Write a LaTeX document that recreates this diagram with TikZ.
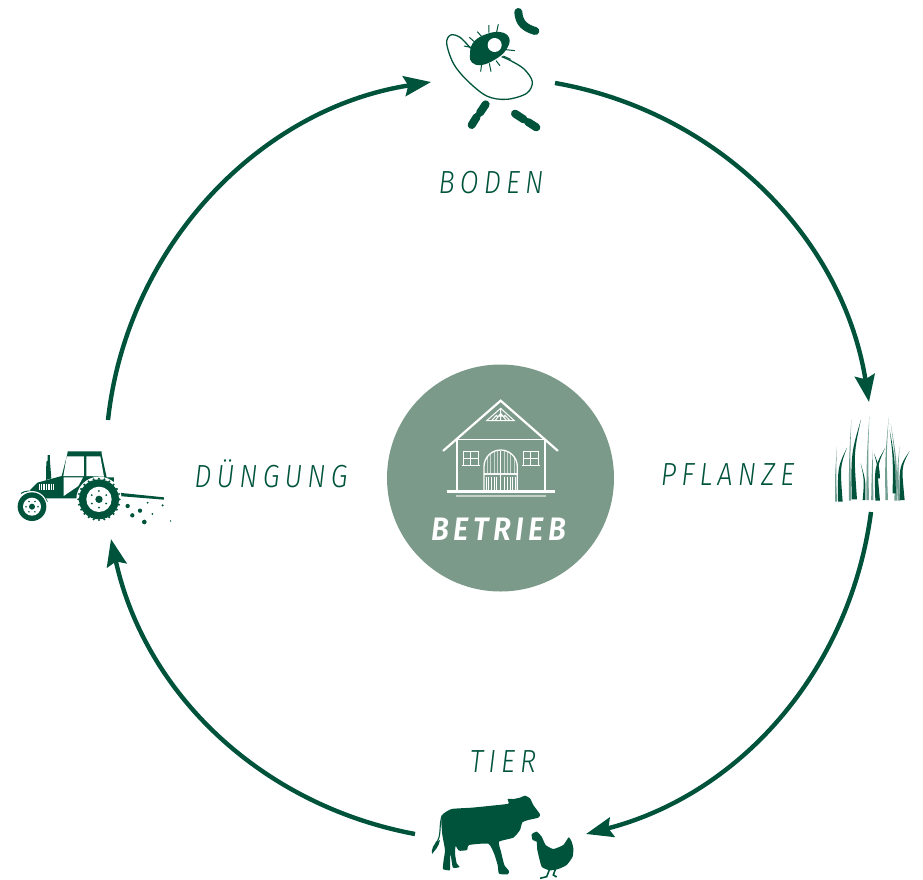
\documentclass[tikz,border=0pt]{standalone}
\usepackage{fontspec}
\usepackage{xcolor}
\usepackage{tikz}
\usetikzlibrary{arrows.meta,calc,positioning}
\newfontfamily\cyclefont[LetterSpace=16,FakeStretch=.85]{Fira Sans Light Italic}
\newfontfamily\farmfont[LetterSpace=14,FakeStretch=.9]{Fira Sans SemiBold Italic}
\definecolor{farmgreen}{HTML}{00533B}
\definecolor{discgreen}{HTML}{7C9A8A}
\newcommand{\grassblade}[5]{\fill[#1] ($#2+(-#5,0)$) .. controls #3 .. #4 .. controls ($#3+(#5,0)$) .. ($#2+(#5,0)$) -- cycle;}

\begin{document}
\begin{tikzpicture}[x=1pt,y=-1pt,
		arrow/.style = {line width=4.4pt,draw=farmgreen,-{Stealth[length=27pt,width=20pt,inset=4pt]}}]
	\tikzset{cyclelabel/.style={text=farmgreen,inner sep=0pt,font=\cyclefont\fontsize{32}{32}\selectfont},
		zoomed/.style={x=.3333pt,y=-.3333pt},
		thinwhite/.style={draw=white,line width=1pt}}
	\useasboundingbox (0,0) rectangle (923,879);

	% Ends of the arcs
	\coordinate (bodenin) at (431,82);
	\coordinate (bodenout) at (555,83);
	\coordinate (pflanzein) at (869,402);
	\coordinate (pflanzeout) at (871,512);
	\coordinate (tierin) at (586,834);
	\coordinate (tierout) at (415,834);
	\coordinate (duengungin) at (111,539);
	\coordinate (duengungout) at (108,420);

	\draw[arrow] (duengungout) to[bend left=37.5,looseness=.95] (bodenin);
	\draw[arrow] (bodenout) to[bend left=35.5,looseness=.95] (pflanzein);
	\draw[arrow] (pflanzeout) to[bend left=34,looseness=.95] (tierin);
	\draw[arrow] (tierout) to[bend left=33.5,looseness=.95] (duengungin);

	% Labels
	\node[cyclelabel] (boden) at (491,183) {BODEN};
	\node[cyclelabel] (pflanze) at (727.5,475) {PFLANZE};
	\node[cyclelabel] (tier) at (503,762) {TIER};
	\node[cyclelabel] (duengung) at (271,474) {DÜNGUNG};

	% Betrieb
	\node[circle,fill=discgreen,minimum size=227pt,inner sep=0pt] (betrieb) at (500.5,478) {};
	\node[text=white,inner sep=0pt,font=\farmfont\fontsize{32.5}{33}\selectfont] (betriebtext) at (499,529) {BETRIEB};
	\begin{scope}[shift={(380,360)},zoomed]
		\draw[white,line width=2.2pt,line cap=round,line join=miter] (190,272) -- (362,122) -- (533,272);
		\draw[white,line width=2.2pt] (231,238) -- (231,393) (494,238) -- (494,393);
		\draw[white,line width=1.4pt] (231,238) -- (494,238);
		\draw[white,line width=2.4pt] (200,395) -- (525,395);
		\draw[white,opacity=.55,line width=1.8pt] (228,407) -- (497,407);
		% windows
		\draw[thinwhite] (250,274) rectangle (296,316) (273,274) -- (273,316) (250,295) -- (296,295);
		\draw[thinwhite] (430,274) rectangle (475,316) (452,274) -- (452,316) (430,295) -- (475,295);
		\draw[thinwhite,line width=1.2pt] (245,317) -- (300,317) (425,317) -- (480,317);
		% door
		\draw[white,line width=1.3pt] (312,390) -- (312,320) arc[start angle=180,end angle=360,radius=50] -- (412,390);
		\foreach \doorx in {322,332,342,352,372,382,392,402}
			\draw[white,opacity=.6,line width=.6pt] (\doorx,342) -- (\doorx,{320-sqrt(2500-(\doorx-362)*(\doorx-362))});
		\draw[white,line width=1pt] (362,272) -- (362,390);
		\draw[white,line width=2pt,opacity=.9] (312,342) -- (412,342);
		\foreach \doorx in {318,326,334,342,350,374,382,390,398,406}
			\draw[white,line width=.7pt] (\doorx,350) -- (\doorx,390);
		% gable
		\draw[thinwhite,line join=miter] (320,182) -- (403,182) -- (362,145) -- cycle;
		\draw[thinwhite] (362,145) -- (362,182) (345,182) -- (362,160) -- (380,182) (335,182) -- (350,165) (390,182) -- (374,165) (348,168) -- (376,168);
	\end{scope}

	% Boden
	\begin{scope}[shift={(420,0)},zoomed]
		\draw[farmgreen,line width=1.3pt] plot[smooth,tension=.55] coordinates {(152,145) (120,112) (92,105) (80,130) (100,190) (140,240) (200,288) (260,298) (320,280) (337,245) (312,207) (272,182) (245,170)};
		\fill[farmgreen] plot[smooth cycle,tension=.7] coordinates {(150,165) (158,130) (192,105) (240,96) (268,115) (258,150) (226,178) (185,195) (156,188)};
		\fill[white] (224,135) circle (21);
		\draw[farmgreen,line width=1pt] (207,98) -- (207,75) (230,96) -- (235,73) (185,110) -- (172,95) (164,126) -- (148,112) (152,142) -- (132,138) (258,149) -- (285,152) (250,168) -- (272,178) (185,192) -- (182,215) (208,190) -- (213,215) (228,182) -- (240,197);
		\draw[farmgreen,line width=8pt,line cap=round] (295,36) .. controls (297,70) and (315,84) .. (346,93);
		\draw[farmgreen,line width=8pt,line cap=round] (197,313) -- (180,338) (170,351) -- (155,375);
		\draw[farmgreen,line width=8pt,line cap=round] (285,341) -- (311,358) (324,366) -- (349,382);
	\end{scope}

	% Pflanze
	\begin{scope}[shift={(825,410)},zoomed]
		\colorlet{grasslight}{farmgreen!55}
		\grassblade{grasslight}{(33,275)}{(30,190)}{(36,110)}{3}
		\grassblade{grasslight}{(75,272)}{(72,140)}{(79,28)}{3.5}
		\grassblade{grasslight}{(128,270)}{(125,140)}{(133,18)}{4}
		\grassblade{grasslight}{(142,270)}{(140,190)}{(143,118)}{3.5}
		\grassblade{grasslight}{(185,270)}{(180,140)}{(191,22)}{4}
		\grassblade{grasslight}{(212,272)}{(212,150)}{(197,40)}{4}
		\grassblade{grasslight}{(222,272)}{(215,190)}{(224,108)}{4}
		\grassblade{farmgreen}{(46,275)}{(38,170)}{(66,113)}{7}
		\grassblade{farmgreen}{(88,268)}{(78,130)}{(108,28)}{8}
		\grassblade{farmgreen}{(117,270)}{(118,210)}{(107,160)}{4}
		\grassblade{farmgreen}{(158,272)}{(148,170)}{(181,113)}{7}
		\grassblade{farmgreen}{(160,205)}{(158,170)}{(147,130)}{5}
		\grassblade{farmgreen}{(208,250)}{(204,140)}{(194,60)}{5}
		\grassblade{farmgreen}{(232,270)}{(222,170)}{(254,123)}{7}
	\end{scope}

	% Tier
	\begin{scope}[shift={(425,785)},zoomed]
		\fill[farmgreen] plot[smooth cycle,tension=.3] coordinates {(53,88) (80,72) (140,68) (200,62) (250,56) (248,42) (265,42) (285,38) (300,32) (315,40) (325,60) (345,88) (340,98) (310,105) (292,112) (285,135) (265,158) (222,170) (228,200) (238,240) (252,258) (248,268) (222,266) (218,240) (207,205) (190,176) (132,180) (126,195) (102,197) (92,183) (90,205) (95,235) (104,246) (84,248) (78,215) (76,205) (75,245) (74,256) (54,252) (56,225) (60,195) (52,150) (49,110)};
		\draw[farmgreen,line width=1.1pt] (52,90) .. controls (40,120) and (52,155) .. (32,175);
		\fill[farmgreen] (35,170) .. controls (28,178) and (18,190) .. (21,207) .. controls (30,195) and (42,185) .. (45,165) -- cycle;
		\fill[farmgreen] plot[smooth cycle,tension=.3] coordinates {(320,148) (335,140) (350,155) (362,180) (385,192) (415,180) (431,157) (440,170) (445,190) (443,215) (425,240) (400,252) (375,256) (350,245) (337,195) (335,170) (323,165)};
		\draw[farmgreen,line width=1.6pt] (375,250) -- (365,275) -- (345,280) (392,250) -- (385,270) -- (395,276);
	\end{scope}

	% Duengung
	\begin{scope}[shift={(10,440)},zoomed]
		% implement
		\fill[farmgreen] (325,158) -- (462,172) -- (462,179) -- (325,168) -- cycle;
		\foreach \dotx/\doty/\dotr in {353/198/6.5,390/212/6.5,367/226/6.5,403/246/7,413/188/3,458/196/3.5,427/222/3,482/243/2.5}
			\fill[farmgreen] (\dotx,\doty) circle (\dotr);
		% exhaust
		\fill[farmgreen] (113,45) -- (120,45) -- (120,65) -- (124,115) -- (108,120) -- (109,65) -- (113,62) -- cycle;
		% body
		\fill[farmgreen] (60,150) -- (82,128) -- (155,108) -- (172,42) -- (173,34) -- (275,34) -- (275,42) -- (290,112) -- (312,112) -- (312,125) -- (250,130) -- (215,175) -- (110,175) -- (70,160) -- cycle;
		\fill[white] (170,49) -- (222,49) -- (222,108) -- (160,108) -- cycle;
		\fill[white] (229,49) -- (271,49) -- (282,110) -- (229,108) -- cycle;
		\fill[white] (161,112) -- (219,112) -- (205,138) -- (161,168) -- cycle;
		\foreach \ventx in {89,94,...,129}
			\draw[white,line width=.8pt] (\ventx,131) -- (\ventx,151);
		% front wheel
		\draw[farmgreen,line width=1pt] (33,160) .. controls (55,145) and (100,155) .. (112,185);
		\fill[white] (66,200) circle (47);
		\fill[farmgreen] (66,200) circle (43);
		\fill[white] (66,200) circle (27);
		\fill[farmgreen] (66,200) circle (9);
		\foreach \studangle in {0,60,...,300}
			\fill[farmgreen] (66,200) +(\studangle:18) circle (2.6);
		% rear wheel
		\fill[white] (267,178) circle (68);
		\foreach \lugangle in {0,15,...,345}
			\fill[farmgreen] (267,178) ++(\lugangle:62) circle (3.5);
		\fill[farmgreen] (267,178) circle (60);
		\fill[white] (267,178) circle (38);
		\fill[farmgreen] (267,178) circle (11);
		\foreach \studangle in {30,90,...,330}
			\fill[farmgreen] (267,178) +(\studangle:25) circle (3);
	\end{scope}

\end{tikzpicture}
\end{document}
